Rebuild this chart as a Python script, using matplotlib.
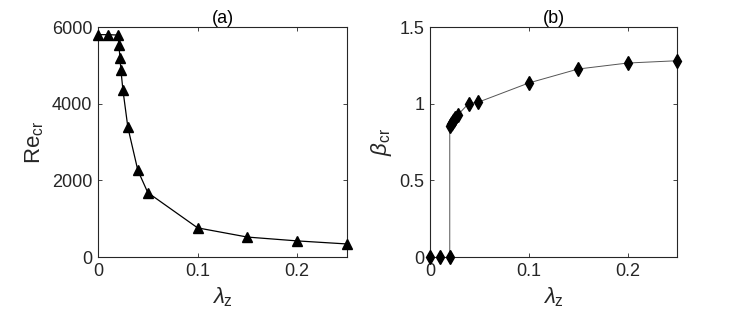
import matplotlib.pyplot as plt
import matplotlib.ticker as mticker

plt.rcParams['font.family'] = ['Liberation Sans', 'DejaVu Sans']
plt.rcParams['mathtext.fontset'] = 'custom'
plt.rcParams['mathtext.rm'] = 'Liberation Sans'
plt.rcParams['mathtext.it'] = 'Liberation Sans:italic'

# (a) critical Reynolds number
lam_a = [0.0, 0.01, 0.02, 0.021, 0.022, 0.023, 0.025, 0.03, 0.04, 0.05, 0.1, 0.15, 0.2, 0.25]
re_cr = [5800, 5800, 5790, 5540, 5200, 4880, 4360, 3380, 2260, 1680, 760, 520, 420, 340]

# (b) critical wavenumber
lam_b = [0.0, 0.01, 0.02, 0.02, 0.021, 0.022, 0.023, 0.024, 0.025, 0.028, 0.039, 0.049,
         0.1, 0.15, 0.2, 0.25]
beta_cr = [0.0, 0.0, 0.0, 0.855, 0.865, 0.875, 0.885, 0.895, 0.905, 0.926, 1.0, 1.01,
           1.135, 1.226, 1.265, 1.28]

fig = plt.figure(figsize=(7.47, 3.18), dpi=100)
W, H = 747, 318
ax1 = fig.add_axes([98 / W, 1 - 257 / H, 249 / W, 230 / H])
ax2 = fig.add_axes([430 / W, 1 - 257 / H, 247 / W, 230 / H])

ax1.plot(lam_a, re_cr, '-^', color='black', lw=0.9, ms=7, clip_on=False, zorder=3)
ax2.plot(lam_b[:3], beta_cr[:3], 'd', color='black', ms=7, clip_on=False, zorder=3)
ax2.plot(lam_b[2:], beta_cr[2:], '-', color='#555555', lw=0.7, clip_on=False, zorder=2)
ax2.plot(lam_b[3:], beta_cr[3:], 'd', color='black', ms=7, clip_on=False, zorder=3)

ax1.set_xlim(0, 0.25)
ax1.set_ylim(0, 6000)
ax1.set_yticks([0, 2000, 4000, 6000])
ax2.set_xlim(0, 0.25)
ax2.set_ylim(0, 1.5)
ax2.set_yticks([0, 0.5, 1, 1.5])
ax2.yaxis.set_major_formatter(mticker.FuncFormatter(lambda v, p: f'{v:g}'))

for ax in (ax1, ax2):
    ax.set_xticks([0, 0.1, 0.2])
    ax.xaxis.set_major_formatter(mticker.FuncFormatter(lambda v, p: f'{v:g}'))
    ax.tick_params(direction='in', top=True, right=True, labelsize=13,
                   length=3, width=0.6, colors='#262626', labelcolor='#262626', pad=4)
    for s in ax.spines.values():
        s.set_linewidth(0.8)
        s.set_color('#262626')
    ax.set_xlabel(r'$\lambda_{\mathrm{z}}$', fontsize=16, color='#262626', labelpad=4)

ax1.set_title('(a)', fontsize=13, pad=3)
ax2.set_title('(b)', fontsize=13, pad=3)
ax1.set_ylabel(r'$\mathrm{Re}_{\mathrm{cr}}$', fontsize=16, color='#262626')
ax2.set_ylabel(r'$\beta_{\mathrm{cr}}$', fontsize=16, color='#262626')

fig.savefig('out.png', dpi=100)
